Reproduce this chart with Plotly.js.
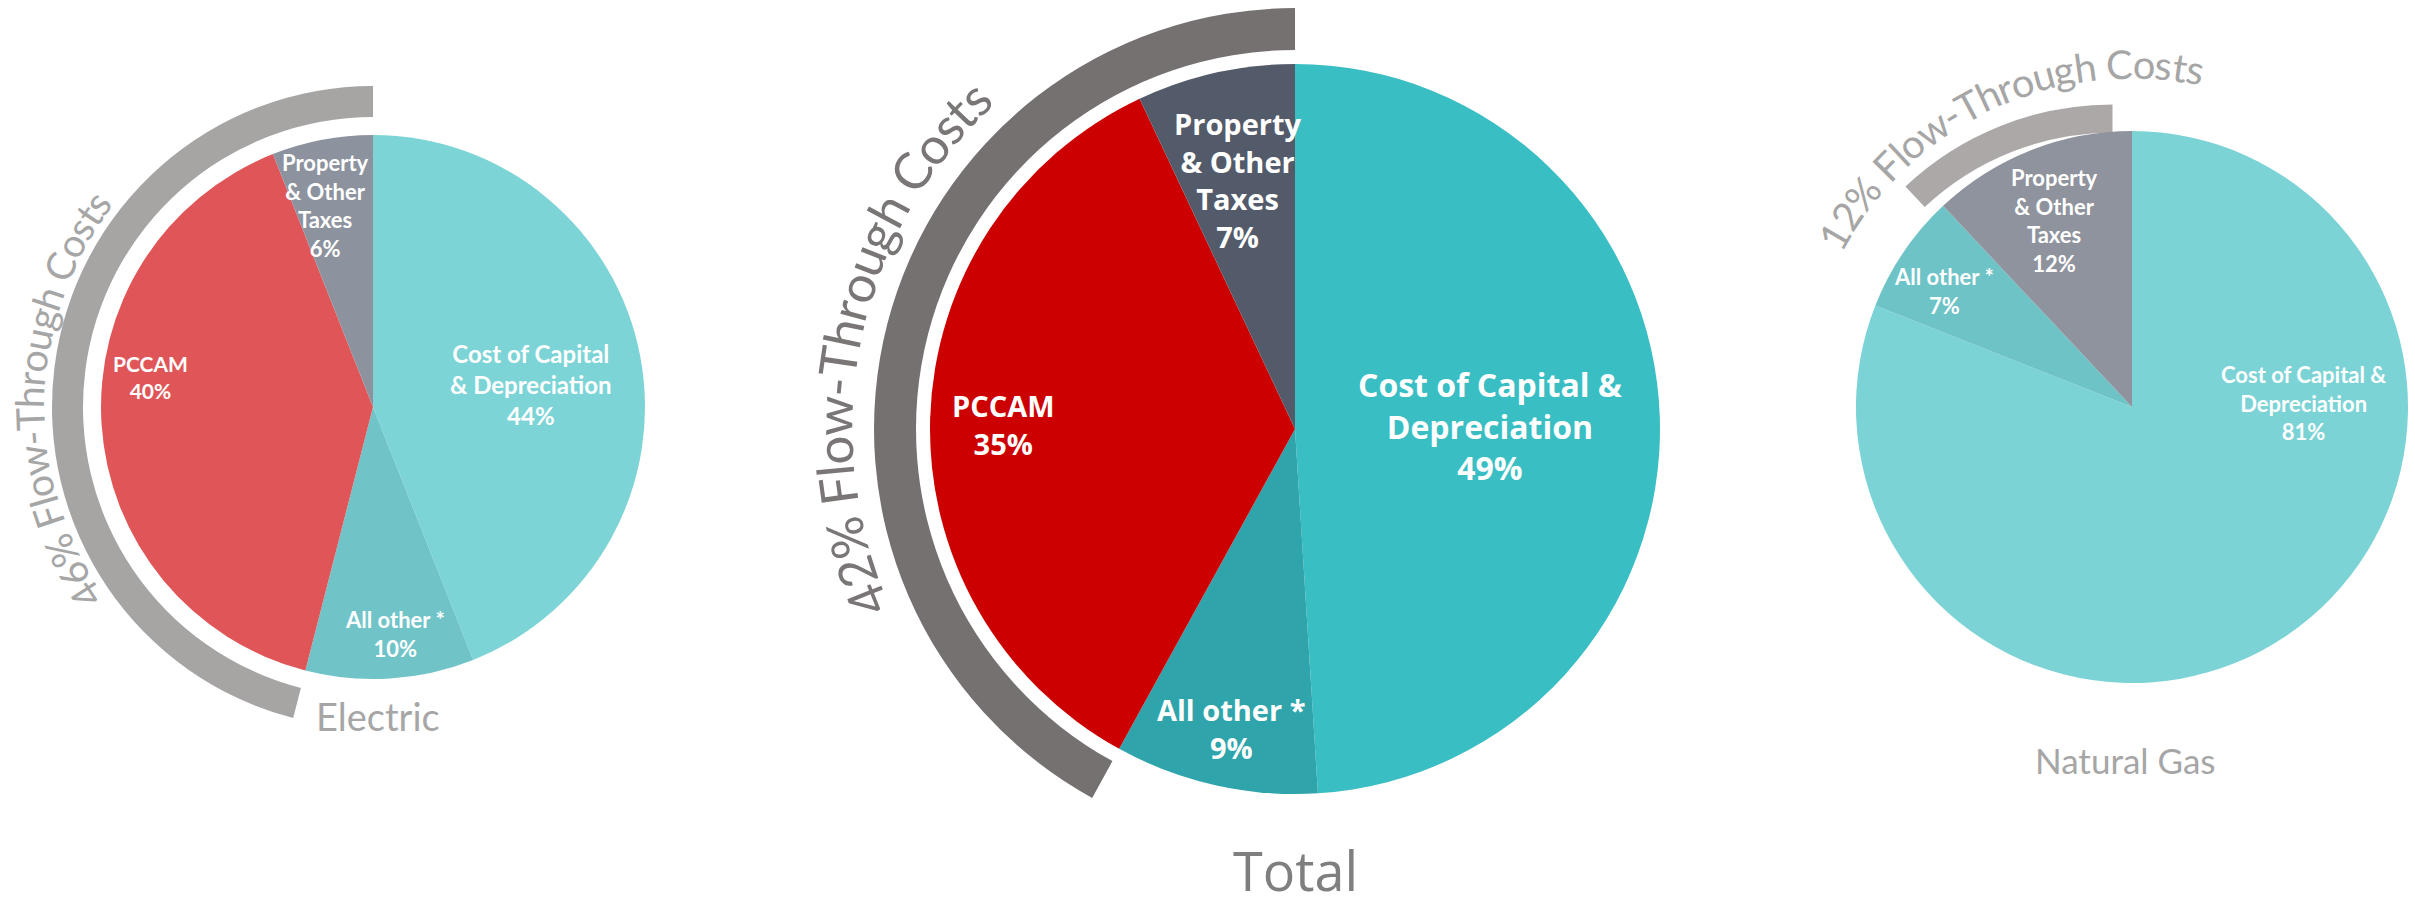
<!DOCTYPE html>
<html>
<head>
<meta charset="utf-8">
<script src="https://cdn.plot.ly/plotly-3.0.1.min.js"></script>
<style>
  html, body { margin: 0; padding: 0; background: #ffffff; }
  #chart { width: 2415px; height: 909px; }
</style>
</head>
<body>
<div id="chart"></div>
<script>
// ---------------- DATA ----------------
const elecCategories = ["Cost of Capital & Depreciation", "All other *", "PCCAM", "Property & Other Taxes"];
const elecValues = [44, 10, 40, 6];
const elecLabels = ["Cost of Capital<br>& Depreciation", "All other *", "PCCAM", "Property<br>& Other<br>Taxes"];
const elecFlowThrough = 46;

const totalCategories = ["Cost of Capital & Depreciation", "All other *", "PCCAM", "Property & Other Taxes"];
const totalValues = [49, 9, 35, 7];
const totalLabels = ["Cost of Capital &<br>Depreciation", "All other *", "PCCAM", "Property<br>& Other<br>Taxes"];
const totalFlowThrough = 42;

const gasCategories = ["Cost of Capital & Depreciation", "All other *", "Property & Other Taxes"];
const gasValues = [81, 7, 12];
const gasLabels = ["Cost of Capital &<br>Depreciation", "All other *", "Property<br>& Other<br>Taxes"];
const gasFlowThrough = 12;

const chartTitles = ["Electric", "Total", "Natural Gas"];
const flowSuffix = "% Flow-Through Costs";

// ---------------- LAYOUT / STYLE ----------------
const W = 2415, H = 909;

const charts = [
  {
    cats: elecCategories, vals: elecValues, labels: elecLabels, flow: elecFlowThrough, title: chartTitles[0],
    cx: 373, cy: 407, R: 272, arcIn: 290, arcOut: 321,
    colors: ["#7DD4D6", "#70C4C8", "#E05658", "#8D939E"], arcColor: "#A7A4A4",
    labelFont: "Lato", labelSizes: [24, 22, 21, 22],
    labelPos: [[82, 0.586], [174.5, 0.84], [277.7, 0.827], [346.8, 0.76]],
    curve: { r: 344, from: 125, to: 52, color: "#A6A6A6", font: "Lato" },
    titleFont: { family: "Lato", size: 38, color: "#A6A6A6" }, titleXY: [378, 716], titleAnchor: "middle"
  },
  {
    cats: totalCategories, vals: totalValues, labels: totalLabels, flow: totalFlowThrough, title: chartTitles[1],
    cx: 1295, cy: 429, R: 365, arcIn: 379, arcOut: 421,
    colors: ["#39BEC3", "#2FA5AB", "#CC0000", "#535B6A"], arcColor: "#767171",
    labelFont: "Open Sans", labelSizes: [32, 29, 29, 29],
    labelPos: [[89, 0.534], [192, 0.84], [270.8, 0.80], [347.1, 0.70]],
    curve: { r: 462, from: 113.6, to: 42.7, color: "#7A7676", font: "Lato" },
    titleFont: { family: "Open Sans", size: 54, color: "#7F7F7F" }, titleXY: [1295, 909], titleAnchor: "bottom"
  },
  {
    cats: gasCategories, vals: gasValues, labels: gasLabels, flow: gasFlowThrough, title: chartTitles[2],
    cx: 2132, cy: 407, R: 276, arcIn: 292, arcOut: 322,
    colors: ["#7BD3D5", "#6DC3C6", "#8F939D"], arcColor: "#ACA8A8",
    labelFont: "Lato", labelSizes: [22, 22, 22],
    labelPos: [[88.7, 0.62], [301.8, 0.80], [337.4, 0.73]],
    curve: { r: 344, from: 62, to: -12, color: "#A6A6A6", font: "Lato" },
    titleFont: { family: "Lato", size: 35, color: "#A6A6A6" }, titleXY: [2125, 760], titleAnchor: "middle"
  }
];

function domainFor(cx, cy, r) {
  return { x: [(cx - r) / W, (cx + r) / W], y: [1 - (cy + r) / H, 1 - (cy - r) / H] };
}

const ctx = document.createElement("canvas").getContext("2d");
function curvedText(text, cx, cy, c, annotations) {
  ctx.font = '100px "' + c.font + '"';
  const chars = Array.from(text);
  const widths = chars.map(ch => ctx.measureText(ch).width / 100);
  const total = widths.reduce((a, b) => a + b, 0);
  const arcLen = Math.abs(c.from - c.to) * Math.PI / 180 * c.r;
  const size = arcLen / total;
  const sign = c.to < c.from ? -1 : 1;
  let off = 0;
  chars.forEach((ch, i) => {
    const w = widths[i] * size;
    const th = c.from + sign * (off + w / 2) / c.r * 180 / Math.PI;
    off += w;
    if (ch === " ") return;
    const t = th * Math.PI / 180;
    const x = cx - c.r * Math.sin(t);
    const y = cy - c.r * Math.cos(t);
    annotations.push({
      text: ch, x: x / W, y: 1 - y / H, xref: "paper", yref: "paper",
      showarrow: false, xanchor: "center", yanchor: "middle", textangle: -th,
      font: { family: c.font, size: size, color: c.color }
    });
  });
}

const traces = [];
const annotations = [];

charts.forEach(ch => {
  // flow-through arc (donut ring): gray part ends at 12 o'clock, on the left side
  traces.push({
    type: "pie",
    values: [100 - ch.flow, ch.flow],
    labels: ["Non Flow-Through", "Flow-Through Costs"],
    sort: false, direction: "clockwise", rotation: 0,
    hole: ch.arcIn / ch.arcOut,
    marker: { colors: ["rgba(0,0,0,0)", ch.arcColor], line: { width: 0 } },
    textinfo: "none", hoverinfo: "skip", showlegend: false,
    domain: domainFor(ch.cx, ch.cy, ch.arcOut)
  });
  // main pie
  traces.push({
    type: "pie",
    values: ch.vals, labels: ch.cats,
    sort: false, direction: "clockwise", rotation: 0,
    marker: { colors: ch.colors, line: { width: 0 } },
    textinfo: "none", hoverinfo: "label+percent", showlegend: false,
    domain: domainFor(ch.cx, ch.cy, ch.R)
  });
  // slice labels
  ch.vals.forEach((v, i) => {
    const [ang, rf] = ch.labelPos[i];
    const t = ang * Math.PI / 180;
    const x = ch.cx + rf * ch.R * Math.sin(t);
    const y = ch.cy - rf * ch.R * Math.cos(t);
    annotations.push({
      text: ch.labels[i] + "<br>" + v + "%",
      x: x / W, y: 1 - y / H, xref: "paper", yref: "paper",
      showarrow: false, xanchor: "center", yanchor: "middle", align: "center",
      font: { family: ch.labelFont, size: ch.labelSizes[i], color: "#FFFFFF", weight: 700 }
    });
  });
  // curved flow-through text
  curvedText(ch.flow + flowSuffix, ch.cx, ch.cy, ch.curve, annotations);
  // chart title
  annotations.push({
    text: ch.title, x: ch.titleXY[0] / W, y: 1 - ch.titleXY[1] / H, xref: "paper", yref: "paper",
    showarrow: false, xanchor: "center", yanchor: ch.titleAnchor, font: ch.titleFont
  });
});

const layout = {
  width: W, height: H,
  margin: { l: 0, r: 0, t: 0, b: 0 },
  paper_bgcolor: "#FFFFFF", plot_bgcolor: "#FFFFFF",
  showlegend: false,
  annotations: annotations
};

Plotly.newPlot("chart", traces, layout, { displayModeBar: false, staticPlot: true });
</script>
</body>
</html>
